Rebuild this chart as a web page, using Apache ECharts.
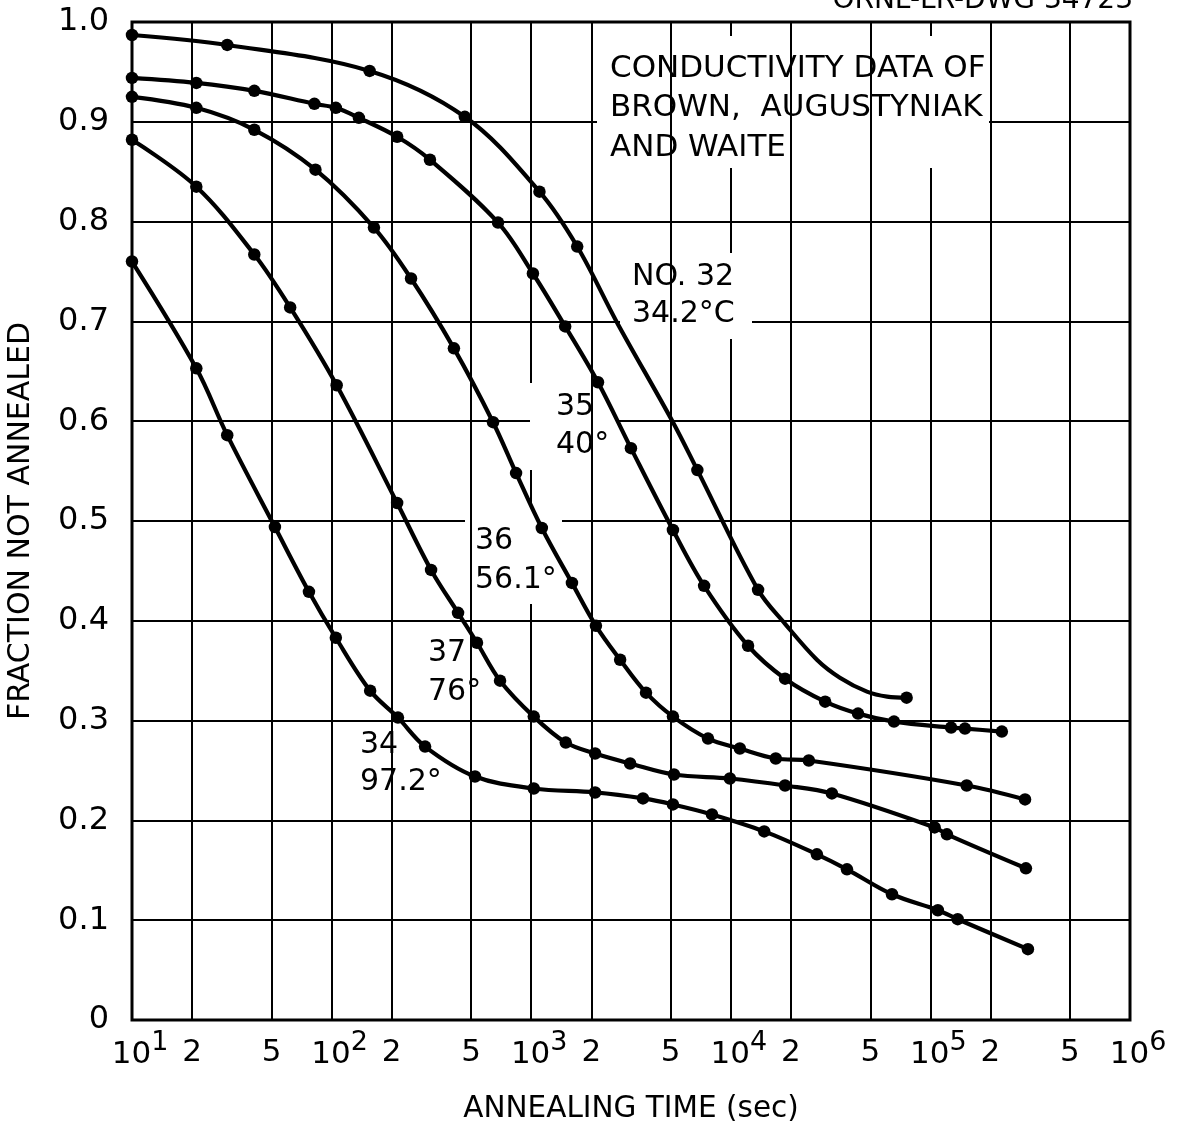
<!DOCTYPE html>
<html>
<head>
<meta charset="utf-8">
<title>Fraction not annealed vs annealing time</title>
<script src="https://cdn.jsdelivr.net/npm/echarts@6.0.0/dist/echarts.min.js"></script>
<style>
  html, body { margin: 0; padding: 0; background: #fff; }
  #chart { width: 1177px; height: 1125px; }
</style>
</head>
<body>
<div id="chart"></div>
<script>
// Conductivity data of Brown, Augustyniak and Waite:
// annealing time (sec) and fraction not annealed for each run.
const time32 = [10, 30, 155, 465, 1100, 1700, 6800, 13700, 76000];
const frac32 = [0.987, 0.977, 0.951, 0.905, 0.830, 0.775, 0.551, 0.431, 0.323];
// drawn curve for run 32 (measured points plus readings along the faired line)
const curveTime32 = [10, 30, 155, 465, 1100, 1700, 2690, 5130, 6800, 13700, 18700, 27000, 35200, 48100, 60700, 76000];
const curveFrac32 = [0.987, 0.977, 0.951, 0.905, 0.830, 0.775, 0.699, 0.599, 0.551, 0.431, 0.397, 0.361, 0.343, 0.329, 0.324, 0.323];

const time35 = [10, 21, 41, 82, 105, 137, 213, 311, 682, 1020, 1480, 2160, 3160, 5130, 7350,
                12200, 18700, 29700, 43400, 65700, 127000, 149000, 228000];
const frac35 = [0.944, 0.939, 0.931, 0.918, 0.914, 0.904, 0.885, 0.862, 0.799, 0.748, 0.695,
                0.639, 0.573, 0.491, 0.435, 0.375, 0.342, 0.319, 0.307, 0.299, 0.293, 0.292, 0.289];

const time36 = [10, 21, 41, 83, 163, 250, 410, 644, 840, 1130, 1600, 2110, 2790, 3760, 5130,
                7690, 11100, 16800, 24600, 152000, 298000];
const frac36 = [0.925, 0.914, 0.892, 0.852, 0.794, 0.743, 0.673, 0.599, 0.548, 0.493, 0.438,
                0.395, 0.361, 0.328, 0.304, 0.282, 0.272, 0.262, 0.260, 0.235, 0.221];

const time37 = [10, 21, 41, 62, 106, 213, 315, 430, 535, 698, 1030, 1490, 2090, 3130, 5190,
                9900, 18700, 32100, 105000, 121000, 301000];
const frac37 = [0.882, 0.835, 0.767, 0.714, 0.636, 0.518, 0.451, 0.408, 0.378, 0.340, 0.304,
                0.278, 0.267, 0.257, 0.246, 0.242, 0.235, 0.227, 0.193, 0.186, 0.152];

const time34 = [10, 21, 30, 52, 77, 105, 156, 215, 294, 523, 1030, 2090, 3630, 5130, 8050,
                14700, 27000, 38200, 64200, 109000, 137000, 308000];
const frac34 = [0.760, 0.653, 0.586, 0.494, 0.429, 0.383, 0.330, 0.303, 0.274, 0.244, 0.232,
                0.228, 0.222, 0.216, 0.206, 0.189, 0.166, 0.151, 0.126, 0.110, 0.101, 0.071];

// Axis ranges and the 2 / 5 subdivisions of every decade
const timeRange = [10, 1e6];
const minorGridTimes = [20, 50, 200, 500, 2000, 5000, 20000, 50000, 200000, 500000];
const fracRange = [0, 1];
const fracStep = 0.1;

// Run labels
const runLabels = ['NO. 32\n34.2°C', '35\n40°', '36\n56.1°', '37\n76°', '34\n97.2°'];
const noteText = 'CONDUCTIVITY DATA OF\nBROWN,  AUGUSTYNIAK\nAND WAITE';
const drawingNo = 'ORNL-LR-DWG 34723';

const FONT = '"DejaVu Sans", "Liberation Sans", sans-serif';
const INK = '#000';

// line: points the curve passes through; dots: measured points
const runs = [
  { line: [curveTime32, curveFrac32], dots: [time32, frac32] },
  { line: [time35, frac35], dots: [time35, frac35] },
  { line: [time36, frac36], dots: [time36, frac36] },
  { line: [time37, frac37], dots: [time37, frac37] },
  { line: [time34, frac34], dots: [time34, frac34] }
];

// Label placement (pixels): [left, top, lineHeight]
const labelPlaces = [
  [632, 259, 37],
  [556, 388, 38],
  [475, 522, 38.5],
  [428, 634, 38.5],
  [360, 726, 37.5]
];
// White panels behind the labels that interrupt the grid: [x0, y0, x1, y1]
const panels = [
  [597, 36, 989, 168],
  [620, 253, 752, 339],
  [530, 383, 618, 470],
  [465, 508, 562, 604],
  [420, 627, 486, 716],
  [352, 727, 445, 805]
];

function pairs(xs, ys) {
  return xs.map(function (x, i) { return [x, ys[i]]; });
}
function mantissa(v) {
  const e = Math.floor(Math.log10(v) + 1e-9);
  return String(Math.round(v / Math.pow(10, e)));
}

const chart = echarts.init(document.getElementById('chart'), null, { renderer: 'canvas' });

const dataSeries = [];
runs.forEach(function (r, k) {
  const name = runLabels[k].split('\n')[0];
  dataSeries.push({
    type: 'line',
    name: name,
    z: 10,
    smooth: 0.35,
    showSymbol: false,
    symbol: 'none',
    animation: false,
    silent: true,
    lineStyle: { color: INK, width: 4.2 },
    data: pairs(r.line[0], r.line[1])
  });
  dataSeries.push({
    type: 'scatter',
    name: name + ' data',
    z: 11,
    symbol: 'circle',
    symbolSize: 12.5,
    animation: false,
    silent: true,
    itemStyle: { color: INK, opacity: 1 },
    data: pairs(r.dots[0], r.dots[1])
  });
});

const minorGridSeries = {
  type: 'line',
  name: 'subdivisions',
  z: 1,
  silent: true,
  animation: false,
  data: [],
  markLine: {
    silent: true,
    animation: false,
    symbol: ['none', 'none'],
    lineStyle: { color: INK, width: 2, type: 'solid' },
    emphasis: { disabled: true },
    label: {
      show: true,
      position: 'start',
      distance: 17,
      color: INK,
      fontFamily: FONT,
      fontSize: 31,
      formatter: function (p) { return mantissa(p.value); }
    },
    data: minorGridTimes.map(function (v) { return { xAxis: v }; })
  }
};

const graphics = [];
panels.forEach(function (p) {
  graphics.push({
    type: 'rect', z: 5, silent: true,
    shape: { x: p[0], y: p[1], width: p[2] - p[0], height: p[3] - p[1] },
    style: { fill: '#fff' }
  });
});
graphics.push({
  type: 'text', z: 6, silent: true, x: 610, y: 49,
  style: { text: noteText, font: '31px ' + FONT, fill: INK, lineHeight: 39.5, verticalAlign: 'top' }
});
runLabels.forEach(function (txt, k) {
  const p = labelPlaces[k];
  graphics.push({
    type: 'text', z: 6, silent: true, x: p[0], y: p[1],
    style: { text: txt, font: '30px ' + FONT, fill: INK, lineHeight: p[2], verticalAlign: 'top' }
  });
});
graphics.push({
  type: 'text', z: 6, silent: true, x: 1133, y: 15,
  style: { text: drawingNo, font: '28px ' + FONT, fill: INK, align: 'right', verticalAlign: 'bottom' }
});

chart.setOption({
  backgroundColor: '#fff',
  animation: false,
  textStyle: { fontFamily: FONT, color: INK },
  grid: {
    left: 132, right: 47, top: 22, bottom: 105,
    containLabel: false,
    outerBoundsMode: 'none',
    show: true, borderColor: INK, borderWidth: 3, backgroundColor: 'transparent'
  },
  xAxis: {
    type: 'log',
    logBase: 10,
    min: timeRange[0],
    max: timeRange[1],
    name: 'ANNEALING TIME (sec)',
    nameLocation: 'middle',
    nameGap: 74,
    nameTextStyle: { fontFamily: FONT, fontSize: 29.5, color: INK },
    axisLine: { show: false },
    axisTick: { show: false },
    splitLine: { show: true, lineStyle: { color: INK, width: 2 } },
    axisLabel: {
      margin: 9,
      color: INK,
      padding: [0, 0, 0, 16],
      formatter: function (v) {
        const e = Math.round(Math.log10(v));
        return '{b|10}{e|' + e + '}';
      },
      rich: {
        b: { fontFamily: FONT, fontSize: 31, color: INK, verticalAlign: 'bottom' },
        e: { fontFamily: FONT, fontSize: 27, color: INK, verticalAlign: 'bottom', padding: [0, 0, 14, 0] }
      }
    }
  },
  yAxis: {
    type: 'value',
    min: fracRange[0],
    max: fracRange[1],
    interval: fracStep,
    name: 'FRACTION NOT ANNEALED',
    nameLocation: 'middle',
    nameGap: 96,
    nameRotate: 90,
    nameTextStyle: { fontFamily: FONT, fontSize: 30, color: INK },
    axisLine: { show: false },
    axisTick: { show: false },
    splitLine: { show: true, lineStyle: { color: INK, width: 2 } },
    axisLabel: {
      margin: 23,
      color: INK,
      fontFamily: FONT,
      fontSize: 32,
      formatter: function (v) { return v === 0 ? '0' : v.toFixed(1); }
    }
  },
  series: [minorGridSeries].concat(dataSeries),
  graphic: graphics
});
</script>
</body>
</html>
